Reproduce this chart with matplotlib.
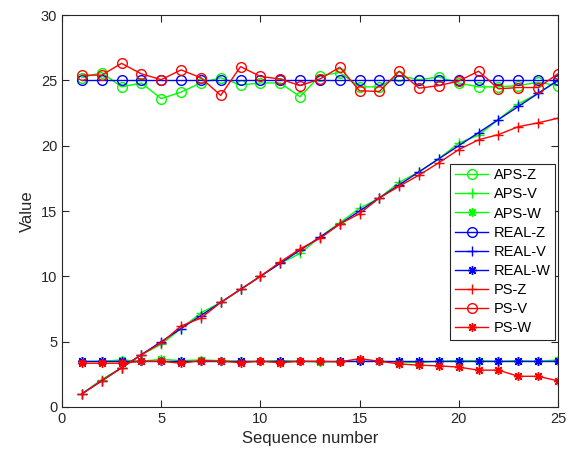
import numpy as np
import matplotlib
matplotlib.use('Agg')
import matplotlib.pyplot as plt

plt.rcParams['font.family'] = ['Liberation Sans', 'DejaVu Sans']

# sequence numbers
seq = np.arange(1, 26)

# APS estimates
aps_z = [25.2, 25.6, 24.5, 24.8, 23.6, 24.1, 24.8, 25.2, 24.65, 24.8, 24.8, 23.75, 25.35,
         25.6, 24.5, 24.5, 25.35, 25.05, 25.25, 24.8, 24.5, 24.5, 24.6, 24.85, 24.6]
aps_v = [1.0, 2.1, 3.0, 4.0, 4.8, 6.0, 7.2, 8.0, 9.0, 10.0, 11.0, 11.75, 13.0,
         14.1, 15.2, 16.0, 17.2, 18.0, 19.0, 20.2, 20.8, 22.0, 23.2, 24.0, 25.0]
aps_w = [3.5, 3.5, 3.6, 3.5, 3.65, 3.55, 3.6, 3.55, 3.5, 3.5, 3.55, 3.5, 3.45,
         3.5, 3.5, 3.5, 3.45, 3.4, 3.5, 3.55, 3.55, 3.5, 3.55, 3.5, 3.6]

# ground truth
real_z = [25] * 25
real_v = list(range(1, 26))
real_w = [3.5] * 25

# PS estimates
ps_z = [1.0, 2.0, 3.0, 4.0, 4.9, 6.2, 6.8, 8.0, 9.0, 10.0, 11.1, 12.1, 12.9,
        14.0, 14.8, 16.0, 16.9, 17.75, 18.7, 19.7, 20.45, 20.85, 21.45, 21.75, 22.1]
ps_v = [25.4, 25.4, 26.3, 25.5, 25.05, 25.8, 25.2, 23.85, 26.05, 25.3, 25.1, 24.6, 25.1,
        26.0, 24.2, 24.15, 25.7, 24.4, 24.6, 24.95, 25.7, 24.35, 24.45, 24.45, 25.5]
ps_w = [3.35, 3.35, 3.35, 3.5, 3.5, 3.35, 3.55, 3.5, 3.4, 3.5, 3.4, 3.5, 3.5,
        3.45, 3.7, 3.5, 3.3, 3.2, 3.15, 3.05, 2.82, 2.82, 2.35, 2.35, 2.0]

fig = plt.figure(figsize=(5.74, 4.55), dpi=100)
ax = fig.add_axes([0.108, 0.1055, 0.864, 0.8615])

g, b, r = (0, 1, 0), (0, 0, 1), (1, 0, 0)
star = (8, 2, 0)  # matlab style asterisk
kw = dict(lw=1.0, ms=7, mew=1.0)
kws = dict(lw=1.0, ms=6.5, mew=1.0)
ax.plot(seq, aps_z, '-o', color=g, mfc='none', label='APS-Z', **kw)
ax.plot(seq, aps_v, '-+', color=g, label='APS-V', **kw)
ax.plot(seq, aps_w, '-', marker=star, color=g, label='APS-W', **kws)
ax.plot(seq, real_z, '-o', color=b, mfc='none', label='REAL-Z', **kw)
ax.plot(seq, real_v, '-+', color=b, label='REAL-V', **kw)
ax.plot(seq, real_w, '-', marker=star, color=b, label='REAL-W', **kws)
ax.plot(seq, ps_z, '-+', color=r, label='PS-Z', **kw)
ax.plot(seq, ps_v, '-o', color=r, mfc='none', label='PS-V', **kw)
ax.plot(seq, ps_w, '-', marker=star, color=r, label='PS-W', **kws)

ax.set_xlim(0, 25)
ax.set_ylim(0, 30)
ax.set_xticks(range(0, 26, 5))
ax.set_yticks(range(0, 31, 5))
ax.tick_params(direction='in', top=True, right=True, labelsize=10.5,
               colors='#262626', length=5)
for s in ax.spines.values():
    s.set_color('#262626')
    s.set_linewidth(0.8)
ax.set_xlabel('Sequence number', fontsize=12, color='#262626')
ax.set_ylabel('Value', fontsize=12, color='#262626')

leg = ax.legend(loc='upper right', bbox_to_anchor=(0.995, 0.62), borderaxespad=0,
                fontsize=10.5, fancybox=False, framealpha=1, edgecolor='#262626',
                handlelength=2.3, labelspacing=0.35, handletextpad=0.4,
                borderpad=0.3)
leg.get_frame().set_linewidth(0.8)

fig.savefig('out.png', dpi=100)
